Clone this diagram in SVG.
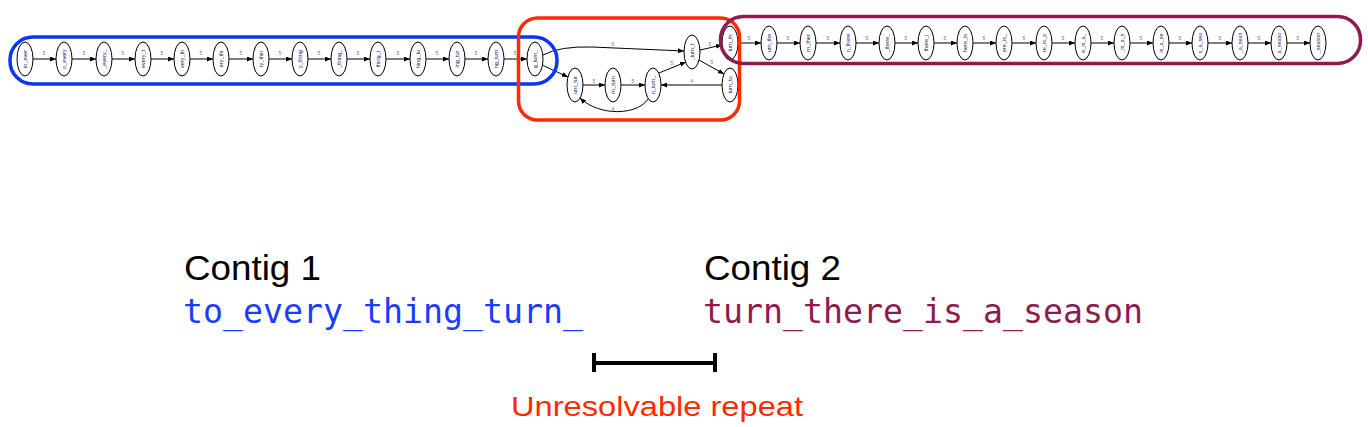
<svg xmlns="http://www.w3.org/2000/svg" width="1368" height="427" viewBox="0 0 1368 427">
<defs>
<marker id="ah" markerWidth="6" markerHeight="5" refX="6" refY="2.5" orient="auto" markerUnits="userSpaceOnUse">
<path d="M0,0 L6,2.5 L0,5 z" fill="#000"/>
</marker>
<style>
.n ellipse{fill:#fff;stroke:#000;stroke-width:1}
.n text{font-family:"Liberation Sans",Arial,sans-serif;font-size:5.5px;fill:#1a2a6a;text-anchor:middle;dominant-baseline:central}
.e{fill:none;stroke:#000;stroke-width:1;marker-end:url(#ah)}
.el{font-family:"Liberation Sans",Arial,sans-serif;font-size:5px;fill:#777;text-anchor:middle}
.box{fill:none;stroke-width:3.5}
.hd{font-family:"Liberation Sans",Arial,sans-serif;font-size:35px;fill:#000}
.mono{font-family:"DejaVu Sans Mono","Liberation Mono",monospace;font-size:33px}
</style>
</defs>
<rect width="1368" height="427" fill="#fff"/>

<g id="connectors">
<!-- blue chain -->
<line class="e" x1="33" y1="59" x2="56" y2="59"/>
<line class="e" x1="72" y1="59" x2="96" y2="59"/>
<line class="e" x1="112" y1="59" x2="135" y2="59"/>
<line class="e" x1="151" y1="59" x2="174" y2="59"/>
<line class="e" x1="190" y1="59" x2="213" y2="59"/>
<line class="e" x1="229" y1="59" x2="253" y2="59"/>
<line class="e" x1="269" y1="59" x2="292" y2="59"/>
<line class="e" x1="308" y1="59" x2="331" y2="59"/>
<line class="e" x1="347" y1="59" x2="370" y2="59"/>
<line class="e" x1="386" y1="59" x2="410" y2="59"/>
<line class="e" x1="426" y1="59" x2="449" y2="59"/>
<line class="e" x1="465" y1="59" x2="488" y2="59"/>
<line class="e" x1="504" y1="59" x2="527" y2="59"/>
<!-- repeat region -->
<path class="e" d="M543,55 Q560,46 592,47 L684,51"/>
<line class="e" x1="542" y1="65" x2="568" y2="77"/>
<line class="e" x1="583" y1="85" x2="605" y2="85"/>
<line class="e" x1="621" y1="85" x2="645" y2="85"/>
<line class="e" x1="659" y1="73" x2="686" y2="62"/>
<line class="e" x1="700" y1="50" x2="722" y2="45"/>
<line class="e" x1="699" y1="60" x2="724" y2="74"/>
<line class="e" x1="722" y1="85" x2="661" y2="85"/>
<path class="e" d="M648,99 C638,115 600,117 580,98"/>
<!-- purple chain -->
<line class="e" x1="738" y1="43" x2="761" y2="43"/>
<line class="e" x1="777" y1="43" x2="800" y2="43"/>
<line class="e" x1="816" y1="43" x2="840" y2="43"/>
<line class="e" x1="856" y1="43" x2="879" y2="43"/>
<line class="e" x1="895" y1="43" x2="918" y2="43"/>
<line class="e" x1="934" y1="43" x2="957" y2="43"/>
<line class="e" x1="973" y1="43" x2="996" y2="43"/>
<line class="e" x1="1012" y1="43" x2="1036" y2="43"/>
<line class="e" x1="1052" y1="43" x2="1075" y2="43"/>
<line class="e" x1="1091" y1="43" x2="1114" y2="43"/>
<line class="e" x1="1130" y1="43" x2="1153" y2="43"/>
<line class="e" x1="1169" y1="43" x2="1192" y2="43"/>
<line class="e" x1="1208" y1="43" x2="1232" y2="43"/>
<line class="e" x1="1248" y1="43" x2="1271" y2="43"/>
<line class="e" x1="1287" y1="43" x2="1310" y2="43"/>
<!-- edge labels -->
<g>
<text class="el" x="44" y="55">5</text><text class="el" x="84" y="55">5</text><text class="el" x="123" y="55">5</text><text class="el" x="162" y="55">5</text><text class="el" x="201" y="55">5</text><text class="el" x="241" y="55">5</text><text class="el" x="280" y="55">5</text><text class="el" x="319" y="55">5</text><text class="el" x="358" y="55">5</text><text class="el" x="398" y="55">5</text><text class="el" x="437" y="55">5</text><text class="el" x="476" y="55">5</text><text class="el" x="515" y="55">5</text>
<text class="el" x="613" y="46">5</text><text class="el" x="556" y="66">5</text><text class="el" x="594" y="83">5</text><text class="el" x="633" y="83">5</text><text class="el" x="672" y="65">5</text><text class="el" x="710" y="46">5</text><text class="el" x="712" y="64">5</text><text class="el" x="692" y="83">4</text><text class="el" x="613" y="111">4</text>
<text class="el" x="749" y="40">5</text><text class="el" x="788" y="40">5</text><text class="el" x="828" y="40">5</text><text class="el" x="867" y="40">5</text><text class="el" x="906" y="40">5</text><text class="el" x="945" y="40">5</text><text class="el" x="984" y="40">5</text><text class="el" x="1024" y="40">5</text><text class="el" x="1063" y="40">5</text><text class="el" x="1102" y="40">5</text><text class="el" x="1141" y="40">5</text><text class="el" x="1180" y="40">5</text><text class="el" x="1220" y="40">5</text><text class="el" x="1259" y="40">5</text><text class="el" x="1298" y="40">5</text>
</g>
</g>

<g id="n_to_ever" class="n"><ellipse cx="25" cy="59" rx="8" ry="17"/><text transform="translate(25,59) rotate(-90)">to_ever</text></g>
<g id="n_o_every" class="n"><ellipse cx="64" cy="59" rx="8" ry="17"/><text transform="translate(64,59) rotate(-90)">o_every</text></g>
<g id="n__every_" class="n"><ellipse cx="104" cy="59" rx="8" ry="17"/><text transform="translate(104,59) rotate(-90)">_every_</text></g>
<g id="n_every_t" class="n"><ellipse cx="143" cy="59" rx="8" ry="17"/><text transform="translate(143,59) rotate(-90)">every_t</text></g>
<g id="n_very_th" class="n"><ellipse cx="182" cy="59" rx="8" ry="17"/><text transform="translate(182,59) rotate(-90)">very_th</text></g>
<g id="n_ery_thi" class="n"><ellipse cx="221" cy="59" rx="8" ry="17"/><text transform="translate(221,59) rotate(-90)">ery_thi</text></g>
<g id="n_ry_thin" class="n"><ellipse cx="261" cy="59" rx="8" ry="17"/><text transform="translate(261,59) rotate(-90)">ry_thin</text></g>
<g id="n_y_thing" class="n"><ellipse cx="300" cy="59" rx="8" ry="17"/><text transform="translate(300,59) rotate(-90)">y_thing</text></g>
<g id="n__thing_" class="n"><ellipse cx="339" cy="59" rx="8" ry="17"/><text transform="translate(339,59) rotate(-90)">_thing_</text></g>
<g id="n_thing_t" class="n"><ellipse cx="378" cy="59" rx="8" ry="17"/><text transform="translate(378,59) rotate(-90)">thing_t</text></g>
<g id="n_hing_tu" class="n"><ellipse cx="418" cy="59" rx="8" ry="17"/><text transform="translate(418,59) rotate(-90)">hing_tu</text></g>
<g id="n_ing_tur" class="n"><ellipse cx="457" cy="59" rx="8" ry="17"/><text transform="translate(457,59) rotate(-90)">ing_tur</text></g>
<g id="n_ng_turn" class="n"><ellipse cx="496" cy="59" rx="8" ry="17"/><text transform="translate(496,59) rotate(-90)">ng_turn</text></g>
<g id="n_g_turn_" class="n"><ellipse cx="535" cy="59" rx="8" ry="17"/><text transform="translate(535,59) rotate(-90)">g_turn_</text></g>

<g id="n_urn_tur" class="n"><ellipse cx="575" cy="85" rx="8" ry="17"/><text transform="translate(575,85) rotate(-90)">urn_tur</text></g>
<g id="n_rn_turn" class="n"><ellipse cx="613" cy="85" rx="8" ry="17"/><text transform="translate(613,85) rotate(-90)">rn_turn</text></g>
<g id="n_n_turn_" class="n"><ellipse cx="653" cy="85" rx="8" ry="17"/><text transform="translate(653,85) rotate(-90)">n_turn_</text></g>
<g id="n__turn_t" class="n"><ellipse cx="692" cy="52" rx="8" ry="17"/><text transform="translate(692,52) rotate(-90)">_turn_t</text></g>
<g id="n_turn_tu" class="n"><ellipse cx="730" cy="85" rx="8" ry="17"/><text transform="translate(730,85) rotate(-90)">turn_tu</text></g>

<g id="n_turn_th" class="n"><ellipse cx="730" cy="43" rx="8" ry="17"/><text transform="translate(730,43) rotate(-90)">turn_th</text></g>
<g id="n_urn_the" class="n"><ellipse cx="769" cy="43" rx="8" ry="17"/><text transform="translate(769,43) rotate(-90)">urn_the</text></g>
<g id="n_rn_ther" class="n"><ellipse cx="808" cy="43" rx="8" ry="17"/><text transform="translate(808,43) rotate(-90)">rn_ther</text></g>
<g id="n_n_there" class="n"><ellipse cx="848" cy="43" rx="8" ry="17"/><text transform="translate(848,43) rotate(-90)">n_there</text></g>
<g id="n__there_" class="n"><ellipse cx="887" cy="43" rx="8" ry="17"/><text transform="translate(887,43) rotate(-90)">_there_</text></g>
<g id="n_there_i" class="n"><ellipse cx="926" cy="43" rx="8" ry="17"/><text transform="translate(926,43) rotate(-90)">there_i</text></g>
<g id="n_here_is" class="n"><ellipse cx="965" cy="43" rx="8" ry="17"/><text transform="translate(965,43) rotate(-90)">here_is</text></g>
<g id="n_ere_is_" class="n"><ellipse cx="1004" cy="43" rx="8" ry="17"/><text transform="translate(1004,43) rotate(-90)">ere_is_</text></g>
<g id="n_re_is_a" class="n"><ellipse cx="1044" cy="43" rx="8" ry="17"/><text transform="translate(1044,43) rotate(-90)">re_is_a</text></g>
<g id="n_e_is_a_" class="n"><ellipse cx="1083" cy="43" rx="8" ry="17"/><text transform="translate(1083,43) rotate(-90)">e_is_a_</text></g>
<g id="n__is_a_s" class="n"><ellipse cx="1122" cy="43" rx="8" ry="17"/><text transform="translate(1122,43) rotate(-90)">_is_a_s</text></g>
<g id="n_is_a_se" class="n"><ellipse cx="1161" cy="43" rx="8" ry="17"/><text transform="translate(1161,43) rotate(-90)">is_a_se</text></g>
<g id="n_s_a_sea" class="n"><ellipse cx="1200" cy="43" rx="8" ry="17"/><text transform="translate(1200,43) rotate(-90)">s_a_sea</text></g>
<g id="n__a_seas" class="n"><ellipse cx="1240" cy="43" rx="8" ry="17"/><text transform="translate(1240,43) rotate(-90)">_a_seas</text></g>
<g id="n_a_seaso" class="n"><ellipse cx="1279" cy="43" rx="8" ry="17"/><text transform="translate(1279,43) rotate(-90)">a_seaso</text></g>
<g id="n__season" class="n"><ellipse cx="1318" cy="43" rx="8" ry="17"/><text transform="translate(1318,43) rotate(-90)">_season</text></g>

<g id="contig1_box"><rect class="box" x="10" y="37" width="547" height="47" rx="23" stroke="#0a36f0"/></g>
<g id="repeat_box"><rect class="box" x="518.5" y="18" width="221" height="102" rx="19" stroke="#ff2a00" stroke-width="3"/></g>
<g id="contig2_box"><rect class="box" x="720.5" y="16.5" width="640" height="47" rx="23" stroke="#8e1a50"/></g>

<g id="labels">
<text class="hd" x="184" y="280" textLength="137" lengthAdjust="spacingAndGlyphs">Contig 1</text>
<text class="mono" x="183" y="323" fill="#1a3cff" textLength="400" lengthAdjust="spacingAndGlyphs">to_every_thing_turn_</text>
<text class="hd" x="704" y="280" textLength="137" lengthAdjust="spacingAndGlyphs">Contig 2</text>
<text class="mono" x="703" y="323" fill="#8e1a50" textLength="440" lengthAdjust="spacingAndGlyphs">turn_there_is_a_season</text>
<text x="511" y="416" font-family="Liberation Sans,Arial,sans-serif" font-size="28" fill="#ff2a00" textLength="292" lengthAdjust="spacingAndGlyphs">Unresolvable repeat</text>
</g>
<g id="repeat_bar" stroke="#000" stroke-width="4" fill="none">
<line x1="594" y1="363" x2="715" y2="363"/>
<line x1="594" y1="353" x2="594" y2="372"/>
<line x1="715" y1="353" x2="715" y2="372"/>
</g>
</svg>
